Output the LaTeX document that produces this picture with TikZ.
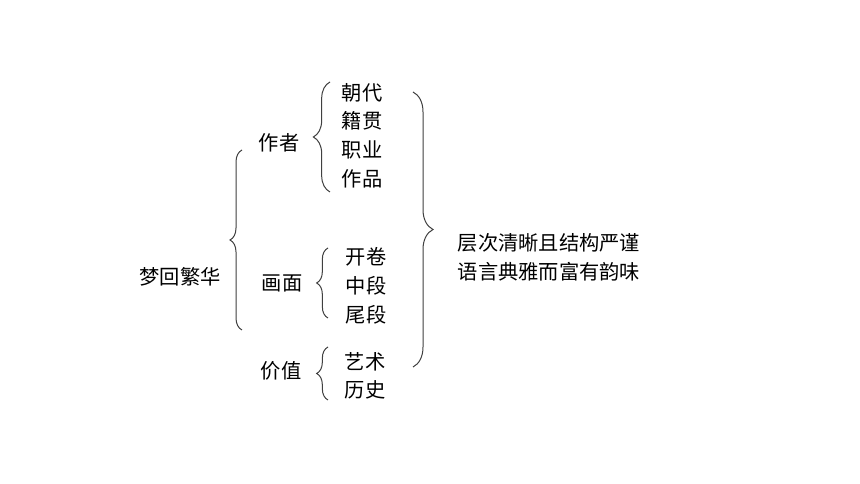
\documentclass[tikz,border=0pt]{standalone}
\usepackage{fontspec}
\setmainfont{Noto Sans CJK SC}
\usetikzlibrary{decorations.pathreplacing}

\begin{document}
\begin{tikzpicture}[x=0.75pt, y=0.75pt,
  bracket/.style={decorate, decoration={brace, amplitude=#1}, draw=black!75, line width=0.75pt},
  word/.style={inner sep=0pt, font=\labelfontsize}]
\def\labelfontsize{\fontsize{15.2}{17}\selectfont}
\useasboundingbox[fill=white] (0,0) rectangle (860,484);

\begin{scope} % ROOT
\node [word] (root) at (180, 207) {梦回繁华};
\draw[bracket=9pt] (242, 154) -- (242, 334);
\end{scope}

\begin{scope} % AUTHOR
\node [word] (author) at (279, 341) {作者};
\draw[bracket=12.5pt] (330, 292) -- (330, 402);
\node [word] (dynasty) at (362, 391) {朝代};
\node [word] (origin) at (362, 363) {籍贯};
\node [word] (career) at (362, 334) {职业};
\node [word] (works) at (362, 305) {作品};
\end{scope}

\begin{scope} % PICTURE
\node [word] (scroll) at (282, 201) {画面};
\draw[bracket=8.5pt] (328, 166) -- (328, 236);
\node [word] (opening) at (366, 227) {开卷};
\node [word] (middle) at (366, 198) {中段};
\node [word] (ending) at (366, 169) {尾段};
\end{scope}

\begin{scope} % VALUE
\node [word] (value) at (281, 113) {价值};
\draw[bracket=8.5pt] (328, 84) -- (328, 137);
\node [word] (art) at (365, 122) {艺术};
\node [word] (history) at (365, 94) {历史};
\end{scope}

\begin{scope} % SUMMARY
\draw[bracket=15pt] (413, 392) -- (413, 117);
\node [word] (structure) at (549, 241) {层次清晰且结构严谨};
\node [word] (language) at (549, 212) {语言典雅而富有韵味};
\end{scope}
\end{tikzpicture}
\end{document}
